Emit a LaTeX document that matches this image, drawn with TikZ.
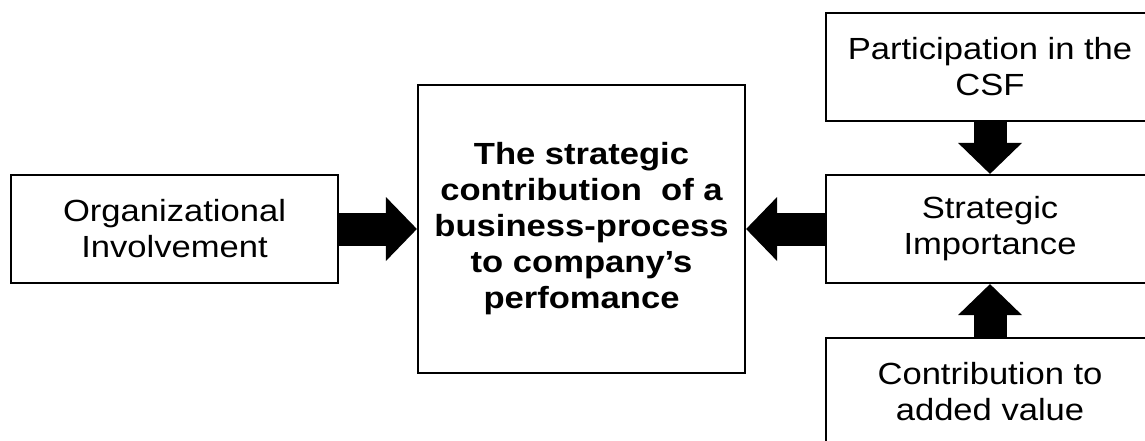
\documentclass[tikz,border=0pt]{standalone}
\usepackage{fontspec}
\setmainfont{Liberation Sans}[FakeStretch=1.13]
\usetikzlibrary{arrows.meta}
\begin{document}
\begin{tikzpicture}[x=1pt,y=-1pt,
  box/.style={draw, line width=2.2pt, minimum width=327pt, minimum height=108pt,
    align=center, inner sep=0pt, font=\fontsize{30.6}{36}\selectfont},
  fat/.style={line width=33pt, -{Triangle[width=64pt,length=31pt,line width=0pt]}}]
\useasboundingbox (0,0) rectangle (1145,441);
\clip (0,0) rectangle (1145,441);
\fill[white] (0,0) rectangle (1145,441);
\node[box] (org) at (174.5,229) {Organizational\\Involvement};
\node[box, minimum height=288pt, font=\fontsize{30.6}{36}\selectfont\bfseries] (main) at (581.5,229)
  {The strategic\\contribution\ \ of a\\business-process\\to company’s\\perfomance};
\node[box, minimum width=328pt] (csf) at (990,67) {Participation in the\\CSF};
\node[box, minimum width=328pt] (imp) at (990,229) {Strategic\\Importance};
\node[box, minimum width=328pt] (val) at (990,392) {Contribution to\\added value};
\draw[fat] (org.east) -- (main.west);
\draw[fat] (imp.west) -- (main.east);
\draw[fat] (csf.south) -- (imp.north);
\draw[fat] (val.north) -- (imp.south);
\end{tikzpicture}
\end{document}
